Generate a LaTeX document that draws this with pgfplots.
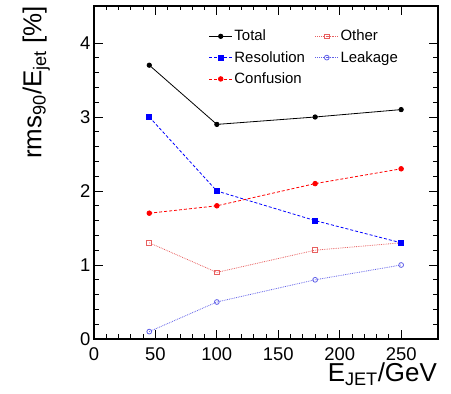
\documentclass[border=0pt]{standalone}
\usepackage{pgfplots}
\pgfplotsset{compat=1.18}
\usepackage{fontspec}
\setmainfont{Liberation Sans}
\definecolor{othercol}{RGB}{232,96,96}
\definecolor{leakcol}{RGB}{96,96,232}
\begin{document}
\begin{tikzpicture}
\begin{axis}[
  scale only axis, width=344bp, height=333bp,
  xmin=0, xmax=280, ymin=0, ymax=4.5,
  xtick={0,50,100,150,200,250}, ytick={0,1,2,3,4},
  minor x tick num=4, minor y tick num=4,
  tick align=inside, major tick length=9bp, minor tick length=4.5bp,
  xtick pos=both, ytick pos=both,
  axis line style={line width=1.1bp}, every tick/.style={line width=0.8bp, black},
  /pgf/number format/assume math mode=true,
  tick label style={font=\fontsize{18.5}{22}\selectfont},
  xticklabel style={yshift=-5bp},
  xlabel={E\textsubscript{JET}/GeV},
  ylabel={rms\textsubscript{90}/E\textsubscript{jet} [\%]},
  label style={font=\fontsize{26}{30}\selectfont},
  x label style={at={(rel axis cs:1,0)}, anchor=north east, inner sep=0pt, yshift=-24bp, xshift=-1bp},
  y label style={at={([xshift=-44bp]rel axis cs:0,1)}, anchor=south east, inner sep=0pt},
  clip=false,
  legend columns=2,
  legend style={draw=none, fill=none, at={(rel axis cs:0.325,0.94)}, anchor=north west,
    font=\fontsize{15}{18}\selectfont, row sep=5bp,
    /tikz/every even column/.append style={column sep=8bp}},
  legend cell align=left,
  legend image code/.code={\draw[mark repeat=2,mark phase=2] plot coordinates {(0cm,0cm) (0.4cm,0cm) (0.8cm,0cm)};},
]
\coordinate (O) at (rel axis cs:0,0);
\addplot[black, line width=0.8bp, mark=*, mark size=2.2bp] coordinates {(45,3.7) (100,2.9) (180,3.0) (250,3.1)};
\addlegendentry{Total}
\addplot[othercol, line width=0.8bp, densely dotted, mark=square, mark size=2.4bp, mark options={solid}] coordinates {(45,1.3) (100,0.9) (180,1.2) (250,1.3)};
\addlegendentry{Other}
\addplot[blue, line width=0.8bp, densely dashed, mark=square*, mark size=2.4bp, mark options={solid}] coordinates {(45,3.0) (100,2.0) (180,1.6) (250,1.3)};
\addlegendentry{Resolution}
\addplot[leakcol, line width=0.8bp, densely dotted, mark=o, mark size=2.4bp, mark options={solid}] coordinates {(45,0.1) (100,0.5) (180,0.8) (250,1.0)};
\addlegendentry{Leakage}
\addplot[red, line width=0.8bp, densely dashed, mark=*, mark size=2.3bp, mark options={solid}] coordinates {(45,1.7) (100,1.8) (180,2.1) (250,2.3)};
\addlegendentry{Confusion}
\end{axis}
\path (O) ++(-94bp,-55bp) rectangle ++(451bp,394bp);
\end{tikzpicture}
\end{document}
